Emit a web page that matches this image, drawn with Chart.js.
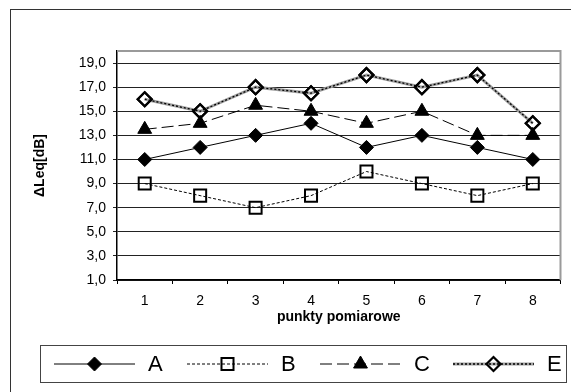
<!DOCTYPE html>
<html>
<head>
<meta charset="utf-8">
<script src="https://cdn.jsdelivr.net/npm/chart.js@4.4.0/dist/chart.umd.min.js"></script>
<style>
  html, body { margin: 0; padding: 0; background: #fff; }
  #wrap { width: 571px; height: 392px; position: relative; }
</style>
</head>
<body>
<div id="wrap"><canvas id="chart"></canvas></div>
<script>
// --- dane ---
const categories = ['1', '2', '3', '4', '5', '6', '7', '8'];
const seriesA = [11, 12, 13, 14, 12, 13, 12, 11];
const seriesB = [9, 8, 7, 8, 10, 9, 8, 9];
const seriesC = [13.5, 14, 15.5, 15, 14, 15, 13, 13];
const seriesE = [16, 15, 17, 16.5, 18, 17, 18, 14];
const seriesNames = ['A', 'B', 'C', 'E'];
const yTicks = [1, 3, 5, 7, 9, 11, 13, 15, 17, 19];
const yMin = 1, yMax = 20;

const FONT = "'Liberation Sans', Arial, sans-serif";

// ramka wokół całego wykresu + obramowanie obszaru kreślenia
const framePlugin = {
    id: 'frame',
    beforeDraw(chart) {
        const ctx = chart.ctx;
        ctx.save();
        ctx.fillStyle = '#fff';
        ctx.fillRect(0, 0, chart.width, chart.height);
        ctx.strokeStyle = '#333';
        ctx.lineWidth = 1;
        ctx.strokeRect(10.5, 9.5, chart.width + 20, chart.height + 20);
        ctx.restore();
    },
    beforeDatasetsDraw(chart) {
        const { ctx, chartArea: a } = chart;
        ctx.save();
        ctx.strokeStyle = '#9a9a9a';
        ctx.lineWidth = 2;
        ctx.beginPath();
        ctx.moveTo(a.left, a.top);
        ctx.lineTo(a.right, a.top);
        ctx.lineTo(a.right, a.bottom);
        ctx.stroke();
        ctx.restore();
    }
};

// czarne kropki na szarej linii serii E
const dottedOverlay = {
    id: 'dottedOverlay',
    afterDatasetDraw(chart, args) {
        if (args.index !== 3) return;
        const ctx = chart.ctx;
        const pts = args.meta.data;
        ctx.save();
        ctx.strokeStyle = '#000';
        ctx.lineWidth = 1.3;
        ctx.setLineDash([2, 2]);
        ctx.beginPath();
        pts.forEach((p, i) => i ? ctx.lineTo(p.x, p.y) : ctx.moveTo(p.x, p.y));
        ctx.stroke();
        ctx.restore();
        pts.forEach(p => p.draw(ctx, chart.chartArea));
    }
};

function drawMarker(ctx, style, x, y, r, filled, bw) {
    ctx.save();
    ctx.setLineDash([]);
    ctx.lineWidth = bw;
    ctx.strokeStyle = '#000';
    ctx.fillStyle = '#000';
    ctx.beginPath();
    if (style === 'rectRot') {
        ctx.moveTo(x, y - r); ctx.lineTo(x + r, y); ctx.lineTo(x, y + r); ctx.lineTo(x - r, y);
    } else if (style === 'rect') {
        const s = r * Math.SQRT1_2;
        ctx.rect(x - s, y - s, 2 * s, 2 * s);
    } else {
        const h = r * 1.5, w = r * Math.sqrt(3);
        ctx.moveTo(x, y - r); ctx.lineTo(x + w / 2, y - r + h); ctx.lineTo(x - w / 2, y - r + h);
    }
    ctx.closePath();
    if (filled) ctx.fill();
    ctx.stroke();
    ctx.restore();
}

// legenda w ramce pod wykresem
const boxLegend = {
    id: 'boxLegend',
    afterDraw(chart) {
        const ctx = chart.ctx;
        const top = 345.5, h = 37, left = 40.5, w = 526;
        const cy = top + h / 2;
        ctx.save();
        ctx.strokeStyle = '#444';
        ctx.lineWidth = 1;
        ctx.strokeRect(left, top, w, h);
        chart.data.datasets.forEach((ds, i) => {
            const x0 = 54 + i * 133, len = 81;
            ctx.save();
            ctx.strokeStyle = ds.borderColor;
            ctx.lineWidth = ds.borderWidth;
            ctx.setLineDash(ds.borderDash || []);
            ctx.beginPath();
            ctx.moveTo(x0, cy); ctx.lineTo(x0 + len, cy);
            ctx.stroke();
            if (i === 3) {
                ctx.strokeStyle = '#000';
                ctx.lineWidth = 1.3;
                ctx.setLineDash([2, 2]);
                ctx.beginPath();
                ctx.moveTo(x0, cy); ctx.lineTo(x0 + len, cy);
                ctx.stroke();
            }
            ctx.restore();
            const filled = ds.pointBackgroundColor !== 'transparent';
            drawMarker(ctx, ds.pointStyle, x0 + len / 2, cy, ds.pointRadius, filled, ds.pointBorderWidth);
            ctx.fillStyle = '#000';
            ctx.font = '22px ' + FONT;
            ctx.textBaseline = 'middle';
            ctx.fillText(ds.label, x0 + len + 13, cy + 1);
        });
        ctx.restore();
    }
};

new Chart(document.getElementById('chart'), {
    type: 'line',
    data: {
        labels: categories,
        datasets: [
            {
                label: seriesNames[0], data: seriesA,
                borderColor: '#000', borderWidth: 1,
                pointStyle: 'rectRot', pointRadius: 7,
                pointBackgroundColor: '#000', pointBorderColor: '#000', pointBorderWidth: 1
            },
            {
                label: seriesNames[1], data: seriesB,
                borderColor: '#000', borderWidth: 1, borderDash: [3, 2],
                pointStyle: 'rect', pointRadius: 8.5,
                pointBackgroundColor: 'transparent', pointBorderColor: '#000', pointBorderWidth: 2
            },
            {
                label: seriesNames[2], data: seriesC,
                borderColor: '#000', borderWidth: 1, borderDash: [12, 5],
                pointStyle: 'triangle', pointRadius: 8,
                pointBackgroundColor: '#000', pointBorderColor: '#000', pointBorderWidth: 1
            },
            {
                label: seriesNames[3], data: seriesE,
                borderColor: '#a0a0a0', borderWidth: 3,
                pointStyle: 'rectRot', pointRadius: 7,
                pointBackgroundColor: 'transparent', pointBorderColor: '#000', pointBorderWidth: 2.2
            }
        ]
    },
    options: {
        responsive: true,
        maintainAspectRatio: false,
        animation: false,
        tension: 0,
        layout: { padding: { left: 10, top: 51, right: 8, bottom: 66 } },
        plugins: {
            legend: { display: false },
            tooltip: { enabled: false }
        },
        scales: {
            x: {
                offset: true,
                grid: { display: true, drawOnChartArea: false, offset: true, tickLength: 4, color: '#000' },
                border: { color: '#000', width: 1.5 },
                ticks: { color: '#000', padding: 9, font: { family: FONT, size: 14 } },
                title: {
                    display: true, text: 'punkty pomiarowe', color: '#000',
                    font: { family: FONT, size: 14, weight: 'bold' }, padding: { top: 0, bottom: 0 }
                },
                afterFit(scale) { scale.height = 46; }
            },
            y: {
                min: yMin, max: yMax,
                grid: { color: '#222', lineWidth: 1, tickLength: 4 },
                border: { color: '#000', width: 1.5 },
                ticks: {
                    color: '#000', padding: 7,
                    font: { family: FONT, size: 14 },
                    callback: v => v.toFixed(1).replace('.', ',')
                },
                afterBuildTicks(scale) { scale.ticks = yTicks.map(v => ({ value: v })); },
                title: {
                    display: true, text: 'ΔLeq[dB]', color: '#000',
                    font: { family: FONT, size: 14, weight: 'bold' }, padding: { top: 22, bottom: 0 }
                },
                afterFit(scale) { scale.width = 107; }
            }
        }
    },
    plugins: [framePlugin, dottedOverlay, boxLegend]
});
</script>
</body>
</html>
